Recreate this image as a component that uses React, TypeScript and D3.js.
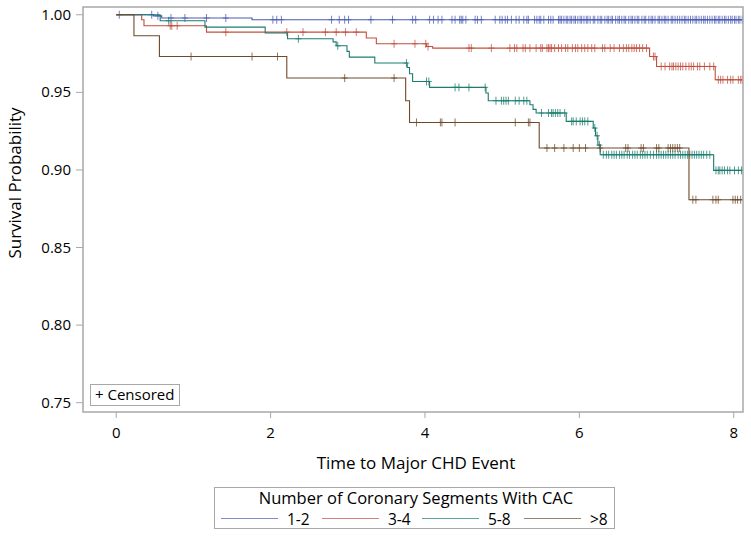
import * as d3 from "d3";
import React from "react";

// Kaplan-Meier curves: event times and survival after each event, plus censored times
const groupNames = ["1-2", "3-4", "5-8", ">8"];
const groupColors = ["#4a5ab0", "#c0503f", "#1a7d6f", "#6e4a2a"];

const eventTimes1 = [0.48, 0.59, 1.76];
const eventSurv1 = [0.9993, 0.9979, 0.9968];
const censor1 = [
  0.04, 0.46, 0.54, 0.71, 0.89, 1.17, 1.42, 2.03, 2.08, 2.14, 2.79, 2.89, 2.96, 3.01,
  3.3, 3.58, 3.84, 3.88, 4.06, 4.11, 4.17, 4.22, 4.35, 4.39, 4.45, 4.47, 4.49, 4.53,
  4.65, 4.68, 4.73, 4.91, 4.97, 5.0, 5.04, 5.07, 5.12, 5.18, 5.22, 5.28, 5.32, 5.34,
  5.42, 5.45, 5.48, 5.5, 5.54, 5.6, 5.63, 5.66, 5.73, 5.75, 5.77, 5.8, 5.83, 5.85,
  5.88, 5.9, 5.93, 5.95, 5.98, 6.01, 6.03, 6.06, 6.09, 6.11, 6.14, 6.18, 6.2, 6.24,
  6.27, 6.29, 6.33, 6.36, 6.38, 6.41, 6.43, 6.47, 6.5, 6.52, 6.55, 6.58, 6.6, 6.64,
  6.67, 6.69, 6.72, 6.75, 6.77, 6.81, 6.84, 6.86, 6.9, 6.93, 6.95, 6.98, 7.02, 7.04,
  7.07, 7.1, 7.12, 7.15, 7.19, 7.21, 7.24, 7.27, 7.3, 7.33, 7.36, 7.38, 7.41, 7.44,
  7.47, 7.5, 7.52, 7.55, 7.58, 7.61, 7.63, 7.66, 7.69, 7.72, 7.75, 7.77, 7.8, 7.82,
  7.85, 7.88, 7.9, 7.93, 7.96, 7.98, 8.01, 8.03, 8.06, 8.08, 8.11,
];

const eventTimes2 = [0.33, 0.36, 1.17, 3.24, 3.37, 4.02, 4.1, 6.91, 7.0, 7.76];
const eventSurv2 = [0.9968, 0.9929, 0.9888, 0.985, 0.9813, 0.9795, 0.9785, 0.9731, 0.9667, 0.9581];
const censor2 = [
  0.7, 0.72, 0.79, 1.42, 2.21, 2.42, 2.71, 2.85, 2.97, 3.11, 3.6, 3.87, 4.01, 4.04,
  4.57, 4.6, 4.86, 5.1, 5.16, 5.19, 5.27, 5.3, 5.36, 5.44, 5.5, 5.52, 5.58, 5.6, 5.62,
  5.64, 5.68, 5.73, 5.77, 5.82, 5.85, 5.91, 5.95, 5.98, 6.03, 6.07, 6.11, 6.16, 6.2,
  6.3, 6.33, 6.4, 6.45, 6.52, 6.57, 6.61, 6.64, 6.68, 6.71, 6.74, 6.78, 6.82, 6.87,
  6.96, 6.98, 7.06, 7.11, 7.17, 7.2, 7.22, 7.25, 7.28, 7.31, 7.34, 7.38, 7.42, 7.45,
  7.48, 7.53, 7.56, 7.62, 7.69, 7.74, 7.8, 7.83, 7.86, 7.92, 7.96, 7.99, 8.06, 8.09, 8.11,
];

const eventTimes3 = [
  0.57, 1.15, 1.93, 2.22, 2.81, 2.85, 2.99, 3.02, 3.35, 3.77, 3.8, 3.84, 4.06, 4.79,
  4.82, 5.36, 5.4, 5.44, 5.83, 6.18, 6.21, 6.24, 6.27, 7.74,
];
const eventSurv3 = [
  0.9961, 0.992, 0.9882, 0.9845, 0.9825, 0.98, 0.9764, 0.9727, 0.9689, 0.966, 0.962,
  0.957, 0.9532, 0.9496, 0.9446, 0.942, 0.939, 0.9367, 0.9313, 0.927, 0.922, 0.916,
  0.9098, 0.8997,
];
const censor3 = [
  0.68, 2.36, 2.87, 3.76, 4.02, 4.05, 4.39, 4.44, 4.57, 4.78, 4.92, 4.99, 5.02, 5.05,
  5.08, 5.17, 5.22, 5.28, 5.32, 5.51, 5.6, 5.64, 5.66, 5.69, 5.72, 5.75, 5.81, 5.9,
  5.92, 5.96, 6.01, 6.04, 6.07, 6.11, 6.2, 6.23, 6.26, 6.31, 6.35, 6.38, 6.42, 6.45,
  6.48, 6.52, 6.55, 6.58, 6.62, 6.65, 6.69, 6.72, 6.75, 6.79, 6.82, 6.85, 6.88, 6.92,
  6.96, 7.0, 7.03, 7.06, 7.09, 7.12, 7.15, 7.18, 7.21, 7.24, 7.28, 7.31, 7.34, 7.37,
  7.4, 7.43, 7.46, 7.49, 7.52, 7.55, 7.58, 7.61, 7.65, 7.69, 7.77, 7.8, 7.82, 7.85,
  7.88, 7.92, 7.95, 8.01, 8.06, 8.1,
];

const eventTimes4 = [0.23, 0.56, 2.21, 3.75, 3.8, 5.48, 7.42];
const eventSurv4 = [0.9865, 0.9731, 0.9592, 0.9446, 0.9306, 0.9141, 0.8808];
const censor4 = [
  0.97, 1.76, 2.09, 2.96, 3.6, 3.89, 4.2, 4.22, 4.39, 5.17, 5.34, 5.36, 5.58, 5.68,
  5.8, 5.92, 6.0, 6.08, 6.27, 6.6, 6.63, 6.8, 6.83, 7.0, 7.03, 7.15, 7.18, 7.21, 7.24,
  7.27, 7.3, 7.47, 7.51, 7.73, 7.77, 7.8, 7.99, 8.02, 8.05, 8.09,
];

const endTime = 8.12;
const xTicks = [0, 2, 4, 6, 8];
const yTicks = [0.75, 0.8, 0.85, 0.9, 0.95, 1.0];

const groups = [
  { times: eventTimes1, surv: eventSurv1, censor: censor1 },
  { times: eventTimes2, surv: eventSurv2, censor: censor2 },
  { times: eventTimes3, surv: eventSurv3, censor: censor3 },
  { times: eventTimes4, surv: eventSurv4, censor: censor4 },
];

const W = 751;
const H = 536;
const left = 83, right = 743, top = 7, bottom = 412;
const font = "'Open Sans', sans-serif";
const frameColor = "#a8a8a8";

function survAt(times: number[], surv: number[], t: number) {
  let s = 1;
  for (let i = 0; i < times.length; i++) if (times[i] <= t) s = surv[i];
  return s;
}

export default function App() {
  const x = d3.scaleLinear().domain([-0.43, 8.12]).range([left, right]);
  const y = d3.scaleLinear().domain([0.744, 1.005]).range([bottom, top]);

  const line = d3
    .line<[number, number]>()
    .x((d) => x(d[0]))
    .y((d) => y(d[1]))
    .curve(d3.curveStepAfter);

  const legendX = [221, 322, 422, 524];

  return (
    <svg
      width={W}
      height={H}
      style={{ position: "absolute", left: 0, top: 0, background: "#fff" }}
      fontFamily={font}
    >
      <rect x={0} y={0} width={W} height={H} fill="#fff" />
      <defs>
        <clipPath id="plotclip">
          <rect x={left} y={top} width={right - left} height={bottom - top} />
        </clipPath>
      </defs>

      <g clipPath="url(#plotclip)">
        {groups.map((g, gi) => {
          const pts: [number, number][] = [[0, 1]];
          g.times.forEach((t, i) => pts.push([t, g.surv[i]]));
          pts.push([endTime, g.surv[g.surv.length - 1]]);
          return (
            <g key={gi}>
              <path d={line(pts) || ""} fill="none" stroke={groupColors[gi]} strokeWidth={1.1} />
              {g.censor.map((t, i) => {
                const cx = x(t);
                const cy = y(survAt(g.times, g.surv, t));
                return (
                  <path
                    key={i}
                    d={`M${cx},${cy - 4}V${cy + 4}M${cx - 3},${cy}H${cx + 3}`}
                    stroke={groupColors[gi]}
                    strokeWidth={0.9}
                    strokeOpacity={0.85}
                  />
                );
              })}
            </g>
          );
        })}
      </g>

      <rect
        x={left}
        y={top}
        width={right - left}
        height={bottom - top}
        fill="none"
        stroke={frameColor}
        strokeWidth={1.5}
      />

      {/* y axis */}
      {yTicks.map((v) => (
        <g key={v}>
          <line x1={76} x2={left} y1={y(v)} y2={y(v)} stroke={frameColor} />
          <text x={71} y={y(v) + 5} textAnchor="end" fontSize={15} fill="#000">
            {d3.format(".2f")(v)}
          </text>
        </g>
      ))}
      <text
        transform={`translate(21,183) rotate(-90)`}
        textAnchor="middle"
        fontSize={17}
        fill="#000"
      >
        Survival Probability
      </text>

      {/* x axis */}
      {xTicks.map((v) => (
        <g key={v}>
          <line x1={x(v)} x2={x(v)} y1={bottom} y2={bottom + 6} stroke={frameColor} />
          <text x={x(v)} y={438} textAnchor="middle" fontSize={15} fill="#000">
            {v}
          </text>
        </g>
      ))}
      <text x={416} y={469} textAnchor="middle" fontSize={17} fill="#000">
        Time to Major CHD Event
      </text>

      {/* censored legend */}
      <rect x={90.5} y={384.5} width={89} height={21} fill="#fff" stroke={frameColor} />
      <text x={95} y={400} fontSize={15} fill="#000">
        + Censored
      </text>

      {/* group legend */}
      <rect x={214.5} y={487.5} width={400} height={41} fill="#fff" stroke={frameColor} />
      <text x={416} y={503.5} textAnchor="middle" fontSize={16.5} fill="#000">
        Number of Coronary Segments With CAC
      </text>
      {groupNames.map((name, i) => (
        <g key={name}>
          <line
            x1={legendX[i]}
            x2={legendX[i] + 57}
            y1={518.5}
            y2={518.5}
            stroke={groupColors[i]}
            strokeOpacity={0.7}
          />
          <text x={legendX[i] + 66} y={525} fontSize={15.5} fill="#000">
            {name}
          </text>
        </g>
      ))}
    </svg>
  );
}
